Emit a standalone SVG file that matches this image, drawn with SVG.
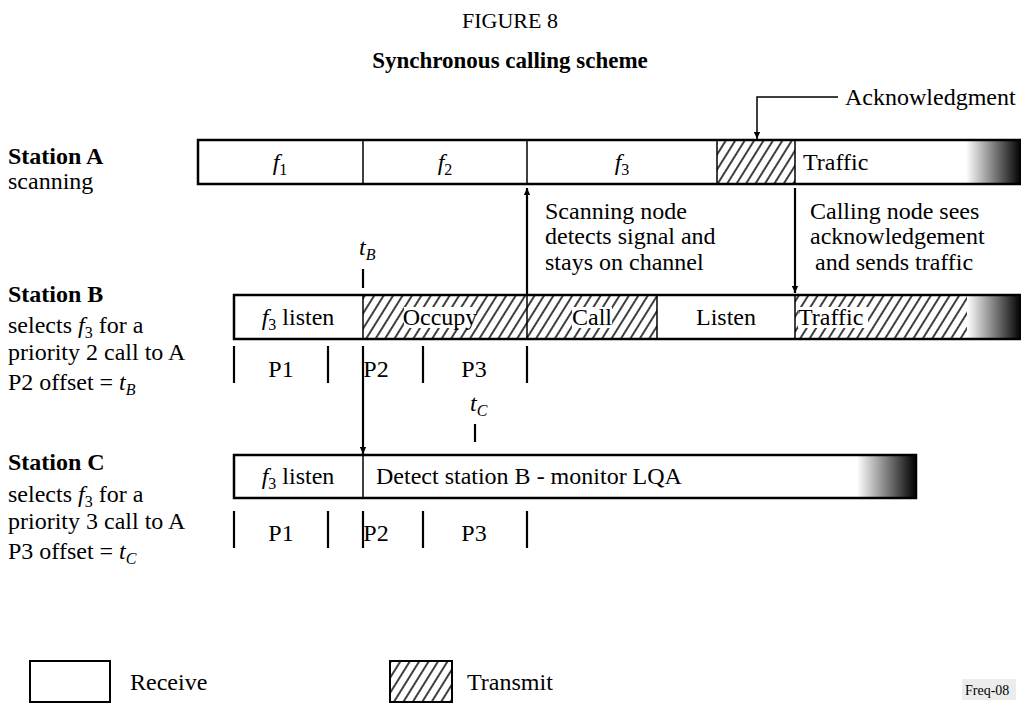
<svg xmlns="http://www.w3.org/2000/svg" width="1021" height="704" viewBox="0 0 1021 704">
<defs>
<pattern id="hatch" patternUnits="userSpaceOnUse" width="8" height="8" patternTransform="rotate(32)">
<rect width="8" height="8" fill="#fff"/>
<line x1="2" y1="0" x2="2" y2="8" stroke="#000" stroke-width="1.5"/>
</pattern>
<linearGradient id="fade" x1="0" y1="0" x2="1" y2="0">
<stop offset="0" stop-color="#fff"/>
<stop offset="1" stop-color="#000"/>
</linearGradient>
<marker id="ah" viewBox="0 0 10 10" refX="10" refY="5" markerWidth="15" markerHeight="7" markerUnits="userSpaceOnUse" orient="auto">
<path d="M0,0.5 L10,5 L0,9.5 Z" fill="#000"/>
</marker>
</defs>
<style>
text{font-family:"Liberation Serif","Times New Roman",serif;font-size:24px;fill:#000}
.b{font-weight:bold}
.i{font-style:italic}
.c{text-anchor:middle}
.sub{font-size:16px}
.bar{fill:none;stroke:#000;stroke-width:2.5}
.div{stroke:#000;stroke-width:1.5}
.tick{stroke:#000;stroke-width:2.2}
.ar{stroke:#000;stroke-width:2.2;fill:none}
</style>
<rect width="1021" height="704" fill="#fff"/>

<g id="title">
<text class="c" x="510" y="28" style="font-size:22px">FIGURE 8</text>
<text class="c b" x="510" y="68" style="font-size:23px">Synchronous calling scheme</text>
</g>

<g id="labels-left">
<text class="b" x="8" y="164">Station A</text>
<text x="8" y="189">scanning</text>
<text class="b" x="8" y="302">Station B</text>
<text x="8" y="333">selects <tspan class="i">f</tspan><tspan class="sub" dy="5">3</tspan><tspan dy="-5"> for a</tspan></text>
<text x="8" y="360">priority 2 call to A</text>
<text x="8" y="390">P2 offset = <tspan class="i">t</tspan><tspan class="i sub" dy="5">B</tspan></text>
<text class="b" x="8" y="470">Station C</text>
<text x="8" y="502">selects <tspan class="i">f</tspan><tspan class="sub" dy="5">3</tspan><tspan dy="-5"> for a</tspan></text>
<text x="8" y="529">priority 3 call to A</text>
<text x="8" y="559">P3 offset = <tspan class="i">t</tspan><tspan class="i sub" dy="5">C</tspan></text>
</g>

<g id="stationA">
<rect x="717" y="140" width="78" height="44" fill="url(#hatch)"/>
<rect x="966" y="140" width="55" height="44" fill="url(#fade)"/>
<path class="bar" d="M1021,140 H198 V184 H1021"/>
<line class="div" x1="363" y1="140" x2="363" y2="184"/>
<line class="div" x1="527" y1="140" x2="527" y2="184"/>
<line class="div" x1="717" y1="140" x2="717" y2="184"/>
<line class="div" x1="795" y1="140" x2="795" y2="184"/>
<text class="c" x="280" y="170"><tspan class="i">f</tspan><tspan class="sub" dy="5">1</tspan></text>
<text class="c" x="445" y="170"><tspan class="i">f</tspan><tspan class="sub" dy="5">2</tspan></text>
<text class="c" x="622" y="170"><tspan class="i">f</tspan><tspan class="sub" dy="5">3</tspan></text>
<text x="803" y="170">Traffic</text>
</g>

<g id="ack">
<text x="845" y="105">Acknowledgment</text>
</g>

<g id="stationB">
<rect x="363" y="295" width="294" height="44" fill="url(#hatch)"/>
<rect x="795" y="295" width="173" height="44" fill="url(#hatch)"/>
<rect x="967" y="295" width="54" height="44" fill="url(#fade)"/>
<rect x="404" y="307" width="72" height="21" fill="#fff"/>
<rect x="572" y="307" width="40" height="21" fill="#fff"/>
<rect x="798" y="307" width="70" height="21" fill="#fff"/>
<path class="bar" d="M1021,295 H234 V339 H1021"/>
<line class="div" x1="363" y1="295" x2="363" y2="339"/>
<line class="div" x1="527" y1="295" x2="527" y2="339"/>
<line class="div" x1="657" y1="295" x2="657" y2="339"/>
<line class="div" x1="795" y1="295" x2="795" y2="339"/>
<text class="c" x="298" y="325"><tspan class="i">f</tspan><tspan class="sub" dy="5">3</tspan><tspan dy="-5"> listen</tspan></text>
<text class="c" x="440" y="325">Occupy</text>
<text class="c" x="592" y="325">Call</text>
<text class="c" x="726" y="325">Listen</text>
<text x="798" y="325">Traffic</text>
</g>

<g id="ticksB">
<line class="tick" x1="234" y1="346" x2="234" y2="383"/>
<line class="tick" x1="328" y1="346" x2="328" y2="383"/>
<line class="tick" x1="423" y1="346" x2="423" y2="383"/>
<line class="tick" x1="527" y1="346" x2="527" y2="383"/>
<text class="c" x="281" y="377">P1</text>
<text class="c" x="376" y="377">P2</text>
<text class="c" x="474" y="377">P3</text>
<text x="359" y="255" class="i">t<tspan class="sub" dy="5">B</tspan></text>
<line class="tick" x1="363" y1="269" x2="363" y2="288"/>
</g>

<g id="notes">
<text x="545" y="219">Scanning node</text>
<text x="545" y="244">detects signal and</text>
<text x="545" y="270">stays on channel</text>
<text x="810" y="219">Calling node sees</text>
<text x="810" y="244">acknowledgement</text>
<text x="815" y="270">and sends traffic</text>
</g>

<g id="stationC">
<rect x="857" y="455" width="59" height="43" fill="url(#fade)"/>
<rect class="bar" x="234" y="455" width="682" height="43"/>
<line class="div" x1="363" y1="455" x2="363" y2="498"/>
<text class="c" x="298" y="484"><tspan class="i">f</tspan><tspan class="sub" dy="5">3</tspan><tspan dy="-5"> listen</tspan></text>
<text x="376" y="484">Detect station B - monitor LQA</text>
</g>

<g id="ticksC">
<line class="tick" x1="234" y1="511" x2="234" y2="548"/>
<line class="tick" x1="328" y1="511" x2="328" y2="548"/>
<line class="tick" x1="363" y1="511" x2="363" y2="548"/>
<line class="tick" x1="423" y1="511" x2="423" y2="548"/>
<line class="tick" x1="527" y1="511" x2="527" y2="548"/>
<text class="c" x="281" y="541">P1</text>
<text class="c" x="376" y="541">P2</text>
<text class="c" x="474" y="541">P3</text>
<text x="470" y="411" class="i">t<tspan class="sub" dy="5">C</tspan></text>
<line class="tick" x1="475" y1="424" x2="475" y2="442"/>
</g>

<g id="connectors">
<polyline class="ar" points="838,97 757,97 757,139" marker-end="url(#ah)" style="stroke-width:1.5"/>
<line class="ar" x1="527" y1="295" x2="527" y2="188" marker-end="url(#ah)"/>
<line class="ar" x1="795" y1="188" x2="795" y2="293" marker-end="url(#ah)"/>
<line class="ar" x1="363" y1="346" x2="363" y2="454" marker-end="url(#ah)"/>
</g>

<g id="legend">
<rect x="30" y="661" width="80" height="41" fill="#fff" stroke="#000" stroke-width="2"/>
<text x="130" y="690">Receive</text>
<rect x="390" y="661" width="62" height="41" fill="url(#hatch)" stroke="#000" stroke-width="2"/>
<text x="467" y="690">Transmit</text>
<rect x="962" y="679" width="54" height="21" fill="#ececec"/>
<text x="965" y="695" style="font-size:14px">Freq-08</text>
</g>
</svg>
